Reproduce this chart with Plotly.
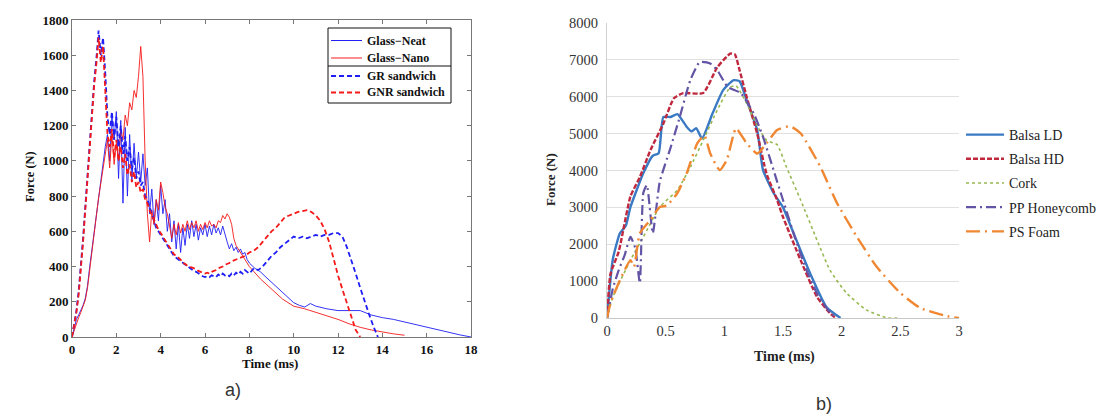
import plotly.graph_objects as go

# ---------------- a) left chart data (Force N vs Time ms) ----------------
STEP = 0.1  # sampling step of the early (noisy) part, ms

neat_early = [0, 50, 100, 125, 150, 180, 220, 290, 400, 500,
              600, 700, 800, 900, 1000, 1080, 1150, 1000, 1260, 1120,
              1280, 900, 1230, 760, 1190, 800, 1150, 880, 1100, 900,
              1050, 880, 1040, 860, 960, 700, 840, 640, 780, 660,
              860, 700, 780, 600, 700, 540, 660, 500, 640, 480,
              620, 520, 640, 560, 660, 570, 640, 550, 620, 580,
              640, 570, 630, 580, 640, 590, 620, 580, 630, 580,
              540, 500, 530, 490, 510, 480, 500, 470, 480, 440]
neat_tail_t = [8.0, 8.25, 8.5, 8.75, 9.0, 9.25, 9.5, 9.75, 10.0, 10.25, 10.5, 10.75, 11.0,
               11.5, 12.0, 12.5, 13.0, 13.5, 14.0, 14.5, 15.0, 15.5, 16.0, 16.5, 17.0, 17.5, 18.0]
neat_tail_f = [420, 390, 370, 340, 310, 285, 250, 220, 195, 180, 170, 190, 175,
               160, 150, 150, 150, 125, 110, 100, 85, 70, 55, 40, 25, 12, 0]

nano_early = [0, 40, 80, 110, 140, 170, 210, 280, 390, 490,
              590, 690, 790, 880, 970, 1050, 1120, 960, 1150, 980,
              1100, 1000, 1180, 1120, 1260, 1200, 1330, 1290, 1400, 1360,
              1480, 1650, 1480, 1000, 700, 540, 720, 640, 780, 720,
              880, 820, 740, 700, 620, 560, 640, 580, 650, 590,
              640, 600, 660, 610, 650, 620, 660, 600, 640, 610,
              650, 620, 660, 630, 640, 620, 660, 650, 690, 670,
              700, 680, 640, 560, 520, 500, 480, 460, 440, 420]
nano_tail_t = [8.0, 8.5, 9.0, 9.5, 10.0, 10.5, 11.0, 11.5, 12.0, 12.5, 13.0, 13.5, 14.0, 14.5, 15.0]
nano_tail_f = [400, 330, 270, 215, 175, 160, 140, 120, 100, 75, 55, 40, 28, 18, 10]

gr_early = [0, 80, 150, 260, 400, 560, 740, 920, 1100, 1300,
            1450, 1580, 1740, 1600, 1700, 1500, 1250, 1150, 1280, 1120,
            1250, 1080, 1200, 1040, 1140, 1000, 1080, 950, 1020, 900,
            940, 860, 880, 800, 780, 740, 700, 660, 620, 600,
            580, 560, 540, 520, 500, 480, 460, 450, 440, 430,
            420, 410, 400, 390, 380, 375, 370, 360, 350, 345,
            340, 345, 340, 350, 345, 340, 355, 345, 360, 350,
            355, 345, 360, 350, 365, 355, 370, 360, 380, 370]
gr_tail_t = [8.0, 8.2, 8.4, 8.6, 8.8, 9.0, 9.2, 9.4, 9.6, 9.8, 10.0, 10.2, 10.4, 10.6, 10.8,
             11.0, 11.2, 11.4, 11.6, 11.8, 12.0, 12.2, 12.4, 12.6, 12.8, 13.0, 13.2, 13.4, 13.6, 13.8]
gr_tail_f = [360, 390, 380, 400, 430, 460, 480, 510, 530, 550, 570, 560, 570, 560, 570,
             580, 570, 580, 580, 590, 590, 570, 510, 440, 360, 280, 200, 130, 60, 0]

gnr_early = [0, 70, 140, 240, 380, 540, 720, 900, 1080, 1280,
             1430, 1550, 1700, 1560, 1650, 1400, 1150, 1080, 1180, 1020,
             1120, 1000, 1080, 960, 1040, 920, 980, 880, 940, 850,
             880, 820, 840, 780, 760, 720, 690, 660, 630, 610,
             590, 570, 550, 530, 510, 490, 470, 460, 450, 440,
             420, 415, 405, 400, 395, 390, 385, 375, 370, 365,
             360, 365, 360, 370, 375, 380, 390, 395, 400, 410,
             415, 420, 430, 435, 440, 445, 450, 455, 460, 470]
gnr_tail_t = [8.0, 8.2, 8.4, 8.6, 8.8, 9.0, 9.2, 9.4, 9.6, 9.8, 10.0, 10.2, 10.4, 10.6, 10.8,
              11.0, 11.2, 11.4, 11.6, 11.8, 12.0, 12.2, 12.4, 12.6, 12.8, 13.0]
gnr_tail_f = [480, 490, 510, 540, 570, 600, 620, 650, 680, 690, 700, 710, 715, 720, 710,
              690, 660, 610, 540, 440, 350, 270, 190, 110, 40, 0]

left_x_ticks = [0, 2, 4, 6, 8, 10, 12, 14, 16, 18]
left_y_ticks = [0, 200, 400, 600, 800, 1000, 1200, 1400, 1600, 1800]
left_names = ["Glass\u2212Neat", "Glass\u2212Nano", "GR sandwich", "GNR sandwich"]

# ---------------- b) right chart data ----------------
balsa_ld_t = [0, 0.05, 0.11, 0.16, 0.2, 0.31, 0.39, 0.44, 0.48, 0.54, 0.6, 0.68, 0.72, 0.76, 0.81,
              0.9, 0.99, 1.08, 1.13, 1.19, 1.28, 1.33, 1.42, 1.5, 1.59, 1.73, 1.87, 1.99]
balsa_ld_f = [0, 1600, 2300, 2500, 3010, 3930, 4400, 4470, 5450, 5450, 5530, 5180, 5060, 5150, 4870,
              5550, 6180, 6450, 6420, 5910, 5100, 4010, 3390, 3000, 2300, 1220, 300, 0]

balsa_hd_t = [0, 0.03, 0.1, 0.2, 0.28, 0.37, 0.48, 0.57, 0.65, 0.82, 0.94, 1.05, 1.09, 1.13,
              1.19, 1.28, 1.36, 1.45, 1.5, 1.65, 1.79, 1.9, 1.95]
balsa_hd_f = [0, 1200, 1800, 3300, 3820, 4550, 5270, 5960, 6100, 6100, 6800, 7170, 7150, 6720,
              6000, 5000, 3910, 3200, 2740, 1570, 570, 130, 0]

cork_t = [0, 0.05, 0.2, 0.31, 0.45, 0.6, 0.71, 0.82, 0.94, 1.05, 1.1, 1.19, 1.3, 1.36, 1.45,
          1.53, 1.65, 1.79, 1.9, 2.04, 2.21, 2.39, 2.5]
cork_f = [0, 570, 1570, 2200, 3010, 3470, 4090, 4820, 5640, 6260, 6300, 5820, 5100, 4820, 4700,
          4090, 3200, 2110, 1300, 680, 220, 0, 0]

pp_t = [0, 0.05, 0.1, 0.15, 0.2, 0.24, 0.28, 0.31, 0.34, 0.39, 0.45, 0.54, 0.62, 0.71, 0.79,
        0.88, 0.94, 1.03, 1.14, 1.25, 1.33, 1.45, 1.5, 1.6, 1.7, 1.8, 1.9, 1.95]
pp_f = [0, 800, 1300, 1700, 2200, 1900, 950, 3400, 3600, 2300, 3700, 4600, 5450, 6450, 6940,
        6900, 6720, 6260, 6100, 5550, 4910, 3700, 3200, 2200, 1300, 600, 150, 0]

ps_t = [0, 0.03, 0.11, 0.2, 0.23, 0.28, 0.37, 0.45, 0.51, 0.6, 0.68, 0.77, 0.83, 0.88, 0.96,
        1.02, 1.08, 1.1, 1.19, 1.28, 1.36, 1.45, 1.56, 1.65, 1.82, 1.96, 2.13, 2.3, 2.5, 2.67, 2.9, 3.0]
ps_f = [0, 400, 1030, 1570, 1390, 2300, 2660, 3010, 3050, 3390, 3930, 4740, 4950, 4460, 4010,
        4280, 5000, 5150, 4740, 4460, 4740, 5100, 5200, 5010, 4090, 3120, 2200, 1380, 680, 270, 50, 0]

right_x_ticks = [0, 0.5, 1, 1.5, 2, 2.5, 3]
right_y_ticks = [0, 1000, 2000, 3000, 4000, 5000, 6000, 7000, 8000]

# ---------------- build ----------------
W, H = 1107, 417


def px(x):
    return x / W


def py(y):
    return 1 - y / H


def grid(n):
    return [round(i * STEP, 2) for i in range(n)]


SERIF = "Liberation Serif, Times New Roman, serif"
BLUE = "rgb(30,30,245)"
RED = "rgb(245,25,25)"
SOLID = dict(width=0.9)
DASHED = dict(width=1.8, dash="5px,3px")

fig = go.Figure()

left_series = [
    (grid(len(neat_early)) + neat_tail_t, neat_early + neat_tail_f, BLUE, SOLID),
    (grid(len(nano_early)) + nano_tail_t, nano_early + nano_tail_f, RED, SOLID),
    (grid(len(gr_early)) + gr_tail_t, gr_early + gr_tail_f, BLUE, DASHED),
    (grid(len(gnr_early)) + gnr_tail_t, gnr_early + gnr_tail_f, RED, DASHED),
]
for name, (xs, ys, col, sty) in zip(left_names, left_series):
    fig.add_trace(go.Scatter(x=xs, y=ys, mode="lines", name=name, line=dict(color=col, **sty),
                             xaxis="x", yaxis="y", showlegend=False))

# right chart traces
right_series = [
    ("Balsa LD", balsa_ld_t, balsa_ld_f, dict(color="rgb(58,122,196)", width=2.4)),
    ("Balsa HD", balsa_hd_t, balsa_hd_f, dict(color="rgb(192,40,62)", width=2.4, dash="5px,2px")),
    ("Cork", cork_t, cork_f, dict(color="rgb(150,185,80)", width=1.6, dash="dot")),
    ("PP Honeycomb", pp_t, pp_f, dict(color="rgb(100,84,165)", width=2.2, dash="10px,4px,2px,4px")),
    ("PS Foam", ps_t, ps_f, dict(color="rgb(240,135,50)", width=2.4, dash="14px,5px,2px,5px")),
]
for i, (name, xs, ys, ln) in enumerate(right_series):
    fig.add_trace(go.Scatter(x=xs, y=ys, mode="lines", name=name,
                             line=dict(shape="spline", smoothing=0.5, **ln),
                             xaxis="x2", yaxis="y2", legendgroup=f"g{i}", legend="legend"))

axis_left_common = dict(ticks="inside", ticklen=4, mirror="ticks", showline=True, linecolor="#777",
                        linewidth=1, tickcolor="#777", showgrid=False, zeroline=False, automargin=False,
                        tickfont=dict(family=SERIF, size=13, color="#111", weight="bold"))

fig.update_layout(
    width=W, height=H, margin=dict(l=0, r=0, t=0, b=0, autoexpand=False),
    paper_bgcolor="white", plot_bgcolor="white", showlegend=True,
    xaxis=dict(domain=[px(72), px(471)], range=[0, 18], tickvals=left_x_ticks, anchor="y",
               **axis_left_common),
    yaxis=dict(domain=[py(337), py(20)], range=[0, 1800], tickvals=left_y_ticks, anchor="x",
               **axis_left_common),
    xaxis2=dict(domain=[px(607), px(959)], range=[0, 3], tickvals=right_x_ticks, anchor="y2",
                showline=True, linecolor="#c8c8c8", showgrid=False, zeroline=False, ticks="",
                automargin=False, tickfont=dict(family=SERIF, size=14.5, color="#333")),
    yaxis2=dict(domain=[py(318), py(23)], range=[0, 8000], tickvals=right_y_ticks, anchor="x2",
                showline=True, linecolor="#d0d0d0", showgrid=True, gridcolor="#e0e0e0", zeroline=False,
                ticks="", automargin=False, ticklabelstandoff=5,
                tickfont=dict(family=SERIF, size=14.5, color="#333")),
    legend=dict(x=px(961), y=py(119), xanchor="left", yanchor="top", bgcolor="rgba(0,0,0,0)",
                borderwidth=0, itemwidth=38, traceorder="grouped", tracegroupgap=3,
                font=dict(family=SERIF, size=14, color="#222")),
)

# manual boxed legend of the left chart (with separator line like the original)
L_X0, L_X1, L_Y0, L_Y1, L_SEP = 328, 451, 28, 103, 66
entry_y = [40.5, 58, 76, 92.5]
shapes = [
    dict(type="rect", x0=px(L_X0), x1=px(L_X1), y0=py(L_Y1), y1=py(L_Y0),
         line=dict(color="#111", width=1), fillcolor="white", layer="above"),
    dict(type="line", x0=px(L_X0), x1=px(L_X1), y0=py(L_SEP), y1=py(L_SEP),
         line=dict(color="#111", width=1), layer="above"),
]
ann = []
for name, (_, _, col, sty), ey in zip(left_names, left_series, entry_y):
    shapes.append(dict(type="line", x0=px(331), x1=px(362), y0=py(ey), y1=py(ey),
                       line=dict(color=col, width=sty["width"] * 1.1, dash=sty.get("dash", "solid")),
                       layer="above"))
    ann.append(dict(text=name, x=px(365), y=py(ey), xanchor="left", yanchor="middle",
                    font=dict(family=SERIF, size=12, color="#111", weight="bold")))
for s in shapes:
    s.update(xref="paper", yref="paper")

ann += [
    dict(text="Force (N)", x=px(30), y=py(177), textangle=-90,
         font=dict(family=SERIF, size=12.5, color="#111", weight="bold")),
    dict(text="Time (ms)", x=px(270), y=py(363),
         font=dict(family=SERIF, size=13, color="#111", weight="bold")),
    dict(text="Force (N)", x=px(550), y=py(180), textangle=-90,
         font=dict(family=SERIF, size=13, color="#222", weight="bold")),
    dict(text="Time (ms)", x=px(784), y=py(357),
         font=dict(family=SERIF, size=14, color="#222", weight="bold")),
    dict(text="a)", x=px(233), y=py(390), font=dict(family="Liberation Sans, Arial", size=18, color="#333")),
    dict(text="b)", x=px(824), y=py(404), font=dict(family="Liberation Sans, Arial", size=18, color="#333")),
]
for a in ann:
    a.update(xref="paper", yref="paper", showarrow=False)
    a.setdefault("xanchor", "center")
    a.setdefault("yanchor", "middle")
fig.update_layout(annotations=ann, shapes=shapes)

fig.write_html("out.html", config={"displayModeBar": False},
               post_script="document.body.style.margin='0';document.body.style.overflow='hidden';")
